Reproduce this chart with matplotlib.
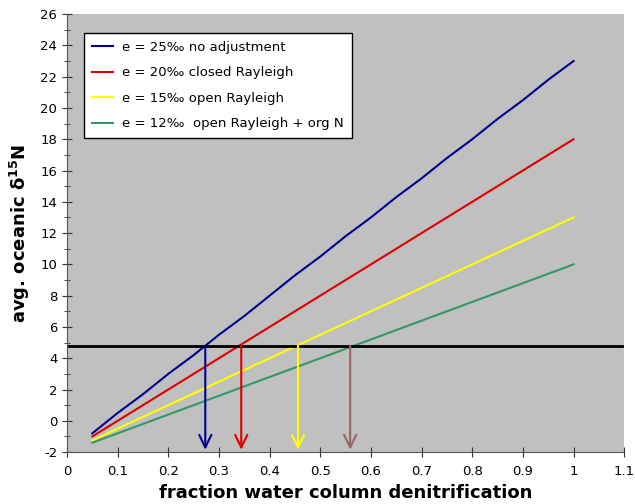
import numpy as np
import matplotlib
matplotlib.use("Agg")
import matplotlib.pyplot as plt
from matplotlib.ticker import MultipleLocator

plt.rcParams["axes.unicode_minus"] = False

# fraction of water column denitrification
frac = [0.05, 0.1, 0.15, 0.2, 0.25, 0.3, 0.35, 0.4, 0.45, 0.5,
        0.55, 0.6, 0.65, 0.7, 0.75, 0.8, 0.85, 0.9, 0.95, 1.0]

# avg oceanic d15N for each fractionation scenario
e25 = [-0.8, 0.5, 1.7, 3.0, 4.2, 5.5, 6.7, 8.0, 9.3, 10.5,
       11.8, 13.0, 14.3, 15.5, 16.8, 18.0, 19.3, 20.5, 21.8, 23.0]
e20 = [-1.0, 0.0, 1.0, 2.0, 3.0, 4.0, 5.0, 6.0, 7.0, 8.0,
       9.0, 10.0, 11.0, 12.0, 13.0, 14.0, 15.0, 16.0, 17.0, 18.0]
e15 = [-1.25, -0.5, 0.25, 1.0, 1.75, 2.5, 3.25, 4.0, 4.75, 5.5,
       6.25, 7.0, 7.75, 8.5, 9.25, 10.0, 10.75, 11.5, 12.25, 13.0]
e12 = [-1.4, -0.8, -0.2, 0.4, 1.0, 1.6, 2.2, 2.8, 3.4, 4.0,
       4.6, 5.2, 5.8, 6.4, 7.0, 7.6, 8.2, 8.8, 9.4, 10.0]

labels = ["e = 25\u2030 no adjustment",
          "e = 20\u2030 closed Rayleigh",
          "e = 15\u2030 open Rayleigh",
          "e = 12\u2030  open Rayleigh + org N"]
colors = ["#000090", "#E00000", "#FFFF00", "#339966"]

# modern d15N level and where each scenario crosses it
modern = 4.8
cross_x = [0.273, 0.344, 0.456, 0.559]
arrow_colors = ["#000090", "#E00000", "#FFFF00", "#996666"]

fig = plt.figure(figsize=(6.35, 5.04), dpi=100)
ax = fig.add_axes([0.1055, 0.103, 0.8775, 0.869])
ax.set_facecolor("#C0C0C0")

for ys, c, lab in zip([e25, e20, e15, e12], colors, labels):
    ax.plot(frac, ys, color=c, lw=1.5, label=lab)

ax.plot([0, 1.095], [modern, modern], color="black", lw=2)

for xc, c in zip(cross_x, arrow_colors):
    ax.annotate("", xy=(xc, -1.85), xytext=(xc, modern),
                arrowprops=dict(arrowstyle="->,head_length=0.45,head_width=0.22",
                                color=c, lw=1.5, mutation_scale=20,
                                shrinkA=0, shrinkB=0))

ax.set_xlim(0, 1.1)
ax.set_ylim(-2, 26)
ax.yaxis.set_major_locator(MultipleLocator(2))
ax.yaxis.set_minor_locator(MultipleLocator(1))
ax.set_xticks(np.arange(0, 1.101, 0.1))
ax.set_xticklabels(["0", "0.1", "0.2", "0.3", "0.4", "0.5", "0.6",
                    "0.7", "0.8", "0.9", "1", "1.1"])
ax.tick_params(axis="both", which="both", direction="inout", labelsize=9.5,
               colors="#333333", labelcolor="black")
ax.tick_params(axis="y", which="major", length=7)
ax.tick_params(axis="y", which="minor", length=5)
ax.tick_params(axis="x", length=7, pad=6)
for s in ["top", "right"]:
    ax.spines[s].set_visible(False)
for s in ["left", "bottom"]:
    ax.spines[s].set_color("#555555")

ax.set_xlabel("fraction water column denitrification", fontsize=13,
              fontweight="bold", labelpad=4)
ax.set_ylabel("avg. oceanic \u03b4$^{\\mathbf{15}}$N", fontsize=13,
              fontweight="bold", labelpad=6)

leg = ax.legend(loc="upper left", bbox_to_anchor=(0.0305, 0.957), fontsize=9.5,
                frameon=True, fancybox=False, edgecolor="black",
                framealpha=1, handlelength=1.6, handletextpad=0.7,
                labelspacing=0.95, borderpad=0.6, borderaxespad=0)
leg.get_frame().set_linewidth(1)

fig.savefig("out.png", dpi=100)
